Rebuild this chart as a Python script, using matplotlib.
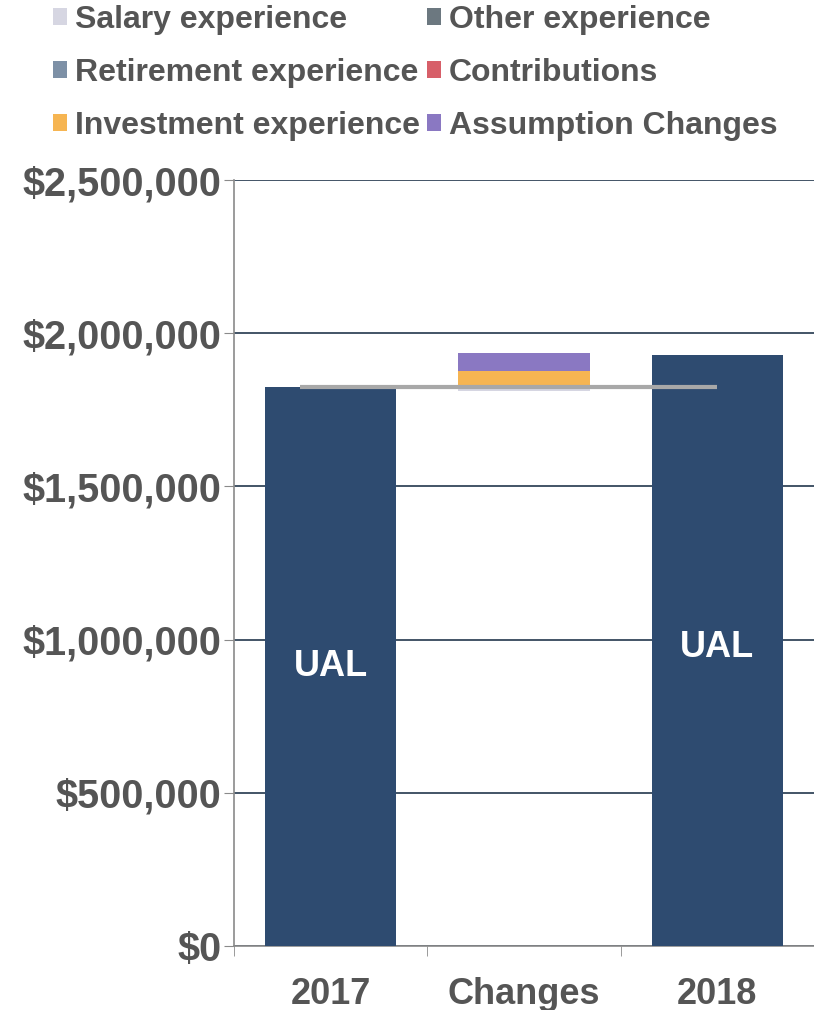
import matplotlib
matplotlib.use("Agg")
import matplotlib.pyplot as plt
from matplotlib.patches import Patch
from matplotlib.ticker import FuncFormatter

plt.rcParams['font.family'] = ['Liberation Sans', 'DejaVu Sans']

categories = ["2017", "Changes", "2018"]
ual_2017 = 1825000
ual_2018 = 1929000
change_names = ["Salary experience", "Other experience", "Retirement experience",
                "Contributions", "Investment experience", "Assumption Changes"]
change_values = [-15000, 0, 0, 0, 51000, 58000]
change_colors = ["#d6d6e2", "#6c7880", "#7d90a6", "#d75f69", "#f6b552", "#8a78c2"]
y_ticks = [0, 500000, 1000000, 1500000, 2000000, 2500000]

bar_color = "#2e4b70"
text_gray = "#555555"

fig = plt.figure(figsize=(8.14, 10.10), dpi=100)
ax = fig.add_axes([234/814, 64/1010, 580/814, 766/1010])

width = 0.68
ax.bar(0, ual_2017, width=width, color=bar_color, zorder=3)
ax.bar(2, ual_2018, width=width, color=bar_color, zorder=3)

# waterfall changes: negatives below start level, positives stacked above
pos_level = ual_2017
neg_level = ual_2017
for name, val, col in zip(change_names, change_values, change_colors):
    if val > 0:
        ax.bar(1, val, bottom=pos_level, width=width, color=col, zorder=3)
        pos_level += val
    elif val < 0:
        ax.bar(1, val, bottom=neg_level, width=width, color=col, zorder=3)
        neg_level += val

# connector line at 2017 level
ax.plot([-0.16, 2.0], [ual_2017, ual_2017], color="#a8a8a8", lw=3, zorder=4,
        solid_capstyle='butt')

ax.text(0, ual_2017 * 0.5, "UAL", color="white", fontsize=26, fontweight="bold",
        ha="center", va="center", zorder=5)
ax.text(2, ual_2018 * 0.505, "UAL", color="white", fontsize=26, fontweight="bold",
        ha="center", va="center", zorder=5)

ax.set_xlim(-0.5, 2.5)
ax.set_ylim(0, 2500000)
ax.set_yticks(y_ticks)
ax.yaxis.set_major_formatter(FuncFormatter(lambda v, p: "${:,.0f}".format(v)))
ax.set_xticks([0, 1, 2])
ax.set_xticklabels(categories)
ax.set_xticks([-0.5, 0.5, 1.5], minor=True)

ax.grid(axis='y', color="#34465a", lw=1.3, zorder=0)
ax.set_axisbelow(True)
for s in ["top", "right"]:
    ax.spines[s].set_visible(False)
ax.spines["left"].set_color("#8a8a8a")
ax.spines["bottom"].set_color("#8a8a8a")
ax.spines["left"].set_linewidth(1.2)
ax.spines["bottom"].set_linewidth(1.2)

ax.tick_params(axis='y', labelsize=28.5, labelcolor=text_gray, length=7, color="#8a8a8a", pad=2)
ax.tick_params(axis='x', which='major', length=0, labelsize=26, labelcolor=text_gray, pad=22)
ax.tick_params(axis='x', which='minor', length=7, color="#8a8a8a")
for lab in ax.get_yticklabels() + ax.get_xticklabels():
    lab.set_fontweight("bold")

handles = [Patch(facecolor=c, edgecolor='none') for c in change_colors]
order = [0, 2, 4, 1, 3, 5]
leg = fig.legend([handles[i] for i in order], [change_names[i] for i in order],
                 loc="upper left", bbox_to_anchor=(24/814, 1.024), ncol=2, frameon=False,
                 prop={'size': 23, 'weight': 'bold'}, handlelength=0.45, handleheight=0.45,
                 handletextpad=0.25, columnspacing=0.2, labelspacing=0.72)
for t in leg.get_texts():
    t.set_color(text_gray)

fig.savefig("out.png", dpi=100)
